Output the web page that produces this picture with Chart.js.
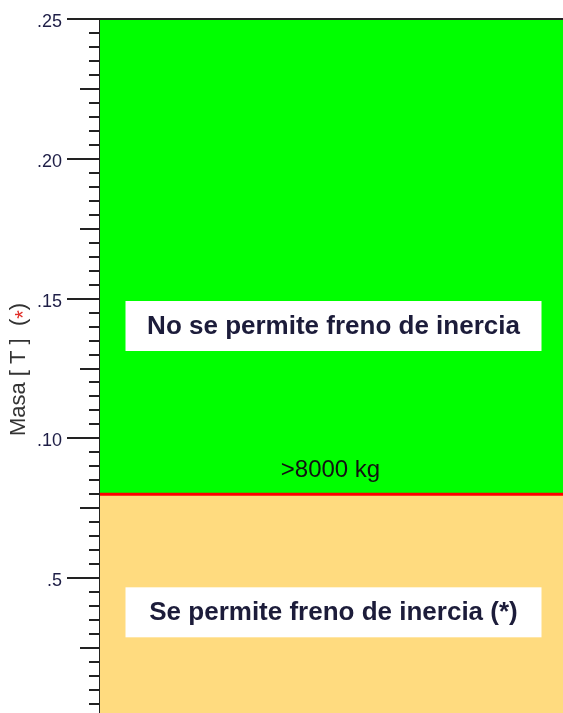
<!DOCTYPE html>
<html>
<head>
<meta charset="utf-8">
<script src="https://cdn.jsdelivr.net/npm/chart.js@4/dist/chart.umd.min.js"></script>
<style>
  html, body { margin: 0; padding: 0; background: #fff; overflow: hidden; }
  canvas { display: block; }
</style>
</head>
<body>
<canvas id="masaChart" width="563" height="720"></canvas>
<script>
// datos del gráfico
const xEdges = [0, 1];
const limitMass = [8, 8];       // límite 8000 kg
const topMass = [25, 25];       // tope del eje
const tickValues = [5, 10, 15, 20, 25];
const tickLabels = ['.5', '.10', '.15', '.20', '.25'];

// textos sobre el gráfico
const noteTexts = ['No se permite freno de inercia', 'Se permite freno de inercia (*)'];
const noteValues = [14.02, 3.78];
const limitText = '>8000 kg';
const limitTextValue = 8.87;

const axisTitle = ['Masa [ T ]  (', '*', ')'];
const axisTitleColors = ['#333', '#e0302a', '#333'];
const axisTitleShift = [0, 5, 0];

// dibuja marcas, recuadros y título del eje
const extras = {
    id: 'extras',
    afterDatasetsDraw(chart) {
        const { ctx, chartArea, scales: { y } } = chart;
        const cx = (chartArea.left + chartArea.right) / 2;

        // recuadros blancos
        ctx.save();
        noteTexts.forEach((txt, i) => {
            const py = y.getPixelForValue(noteValues[i]);
            ctx.fillStyle = '#fff';
            ctx.fillRect(cx - 206, py - 25, 416, 50);
            ctx.fillStyle = '#1c1c3a';
            ctx.font = 'bold 26px "Liberation Sans", Arial, sans-serif';
            ctx.textAlign = 'center';
            ctx.textBaseline = 'middle';
            ctx.fillText(txt, cx + 2, py + 1);
        });

        // etiqueta del límite
        ctx.fillStyle = '#111';
        ctx.font = '24px "Liberation Sans", Arial, sans-serif';
        ctx.textAlign = 'center';
        ctx.textBaseline = 'middle';
        ctx.fillText(limitText, cx - 1, y.getPixelForValue(limitTextValue));
        ctx.restore();
    },
    afterDraw(chart) {
        const { ctx, chartArea, scales: { y } } = chart;
        ctx.save();

        // línea superior
        ctx.strokeStyle = '#222';
        ctx.lineWidth = 2;
        ctx.beginPath();
        ctx.moveTo(chartArea.left, chartArea.top);
        ctx.lineTo(chartArea.right, chartArea.top);
        ctx.stroke();

        // marcas del eje
        y.ticks.forEach(t => {
            const py = Math.round(y.getPixelForValue(t.value));
            let len = 11;
            if (t.value % 5 === 0) len = 33;
            else if (t.value % 2.5 === 0) len = 20;
            ctx.beginPath();
            ctx.moveTo(chartArea.left - len, py);
            ctx.lineTo(chartArea.left, py);
            ctx.stroke();
        });

        // título vertical
        ctx.translate(19, y.getPixelForValue(12.5) + 1);
        ctx.rotate(-Math.PI / 2);
        ctx.font = '22px "Liberation Sans", Arial, sans-serif';
        ctx.textBaseline = 'middle';
        const widths = axisTitle.map(s => ctx.measureText(s).width);
        let x = -widths.reduce((a, b) => a + b, 0) / 2;
        axisTitle.forEach((s, i) => {
            ctx.fillStyle = axisTitleColors[i];
            ctx.fillText(s, x, axisTitleShift[i]);
            x += widths[i];
        });
        ctx.restore();
    }
};

new Chart(document.getElementById('masaChart'), {
    type: 'line',
    data: {
        datasets: [{
            label: 'Límite',
            data: xEdges.map((x, i) => ({ x: x, y: limitMass[i] })),
            borderColor: '#ff0000',
            borderWidth: 3,
            pointRadius: 0,
            backgroundColor: '#ffdb7f',
            fill: 'start'
        }, {
            label: 'Tope',
            data: xEdges.map((x, i) => ({ x: x, y: topMass[i] })),
            borderWidth: 0,
            borderColor: 'rgba(0,0,0,0)',
            pointRadius: 0,
            backgroundColor: '#00ff00',
            fill: 0
        }]
    },
    options: {
        responsive: false,
        animation: false,
        devicePixelRatio: 1,
        layout: { padding: { top: 19, right: 0, bottom: 2, left: 0 } },
        plugins: {
            legend: { display: false },
            tooltip: { enabled: false }
        },
        scales: {
            x: {
                type: 'linear',
                min: 0,
                max: 1,
                display: false
            },
            y: {
                type: 'linear',
                min: 0,
                max: 25,
                afterFit: scale => {
                    scale.width = 100;
                    scale.paddingTop = 0;
                    scale.paddingBottom = 0;
                },
                grid: { display: false, drawTicks: false },
                border: { display: true, color: '#222', width: 2 },
                ticks: {
                    stepSize: 0.5,
                    autoSkip: false,
                    padding: 38,
                    labelOffset: 3,
                    color: '#1e1e46',
                    font: { family: '"Liberation Sans", Arial, sans-serif', size: 18 },
                    callback: value => {
                        const i = tickValues.indexOf(value);
                        return i >= 0 ? tickLabels[i] : '';
                    }
                }
            }
        }
    },
    plugins: [extras]
});
</script>
</body>
</html>
